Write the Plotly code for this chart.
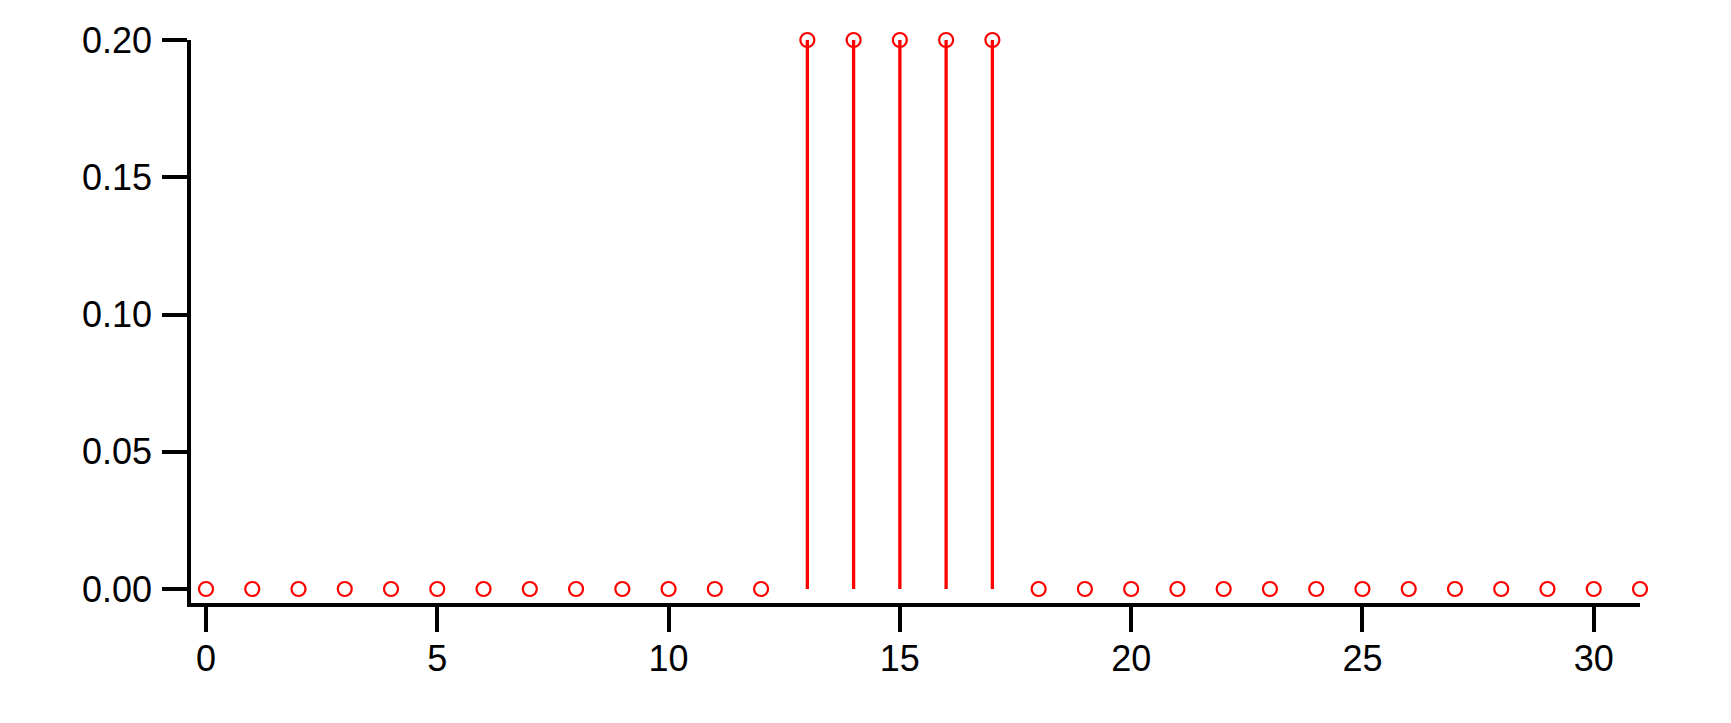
import plotly.graph_objects as go

x_values = list(range(32))
y_values = [0.0] * 13 + [0.2] * 5 + [0.0] * 14
y_ticks = [0.0, 0.05, 0.10, 0.15, 0.20]
x_ticks = [0, 5, 10, 15, 20, 25, 30]

red = "#ff0000"

fig = go.Figure()
fig.add_trace(go.Scatter(
    x=x_values, y=y_values, mode="markers",
    marker=dict(symbol="circle-open", size=14, color=red, line=dict(width=2.2, color=red)),
    error_y=dict(type="data", symmetric=False, array=[0] * len(y_values),
                 arrayminus=y_values, width=0, thickness=3.3, color=red),
    cliponaxis=False, showlegend=False,
))

axis_font = dict(family="Liberation Sans, Arial, Helvetica, sans-serif", size=36, color="black")

fig.update_layout(
    width=1731, height=723,
    margin=dict(l=183, r=99, t=27, b=128, pad=0),
    plot_bgcolor="white", paper_bgcolor="white",
    xaxis=dict(range=[-0.324, 31.0], tickvals=x_ticks, ticks="outside", ticklen=25,
               tickwidth=3.5, tickcolor="black", showline=True, linewidth=3.5, linecolor="black",
               showgrid=False, zeroline=False, tickfont=axis_font, ticklabelstandoff=-4),
    yaxis=dict(range=[-0.0051, 0.2], tickvals=y_ticks, tickformat=".2f", ticks="outside",
               ticklen=25, tickwidth=3.5, tickcolor="black", showline=True, linewidth=3.5,
               linecolor="black", showgrid=False, zeroline=False, tickfont=axis_font,
               ticklabelstandoff=3),
)

fig.write_html("out.html")
